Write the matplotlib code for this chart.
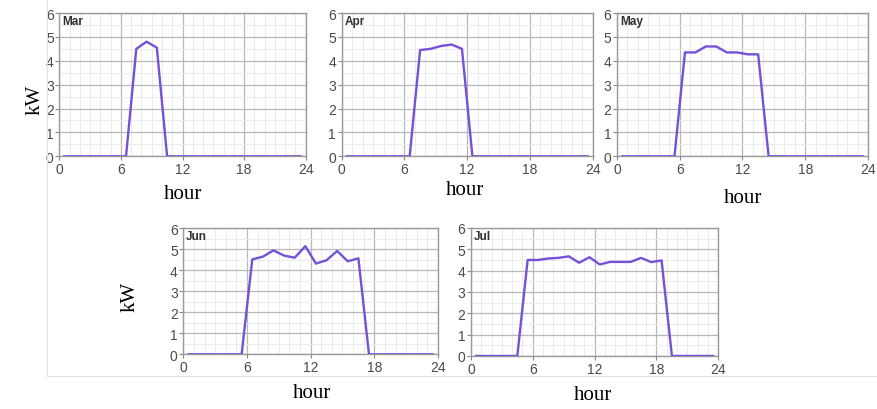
import matplotlib.pyplot as plt
from matplotlib.lines import Line2D
from matplotlib.ticker import MultipleLocator

# hourly mean PV output (kW), points at the middle of each hour
hours = [h + 0.5 for h in range(24)]

mar = [0, 0, 0, 0, 0, 0, 0, 4.5, 4.8, 4.55, 0, 0,
       0, 0, 0, 0, 0, 0, 0, 0, 0, 0, 0, 0]
apr = [0, 0, 0, 0, 0, 0, 0, 4.45, 4.5, 4.62, 4.68, 4.5,
       0, 0, 0, 0, 0, 0, 0, 0, 0, 0, 0, 0]
may = [0, 0, 0, 0, 0, 0, 4.35, 4.35, 4.6, 4.6, 4.35, 4.35,
       4.27, 4.27, 0, 0, 0, 0, 0, 0, 0, 0, 0, 0]
jun = [0, 0, 0, 0, 0, 0, 4.52, 4.65, 4.95, 4.7, 4.6, 5.15,
       4.32, 4.48, 4.92, 4.43, 4.57, 0, 0, 0, 0, 0, 0, 0]
jul = [0, 0, 0, 0, 0, 4.5, 4.5, 4.57, 4.6, 4.67, 4.37, 4.63,
       4.29, 4.41, 4.41, 4.41, 4.6, 4.4, 4.48, 0, 0, 0, 0, 0]

months = ["Mar", "Apr", "May", "Jun", "Jul"]
series = [mar, apr, may, jun, jul]

# axes boxes in figure fractions (left, bottom, width, height)
boxes = [
    [0.0676, 0.6163, 0.2810, 0.3495],
    [0.3896, 0.6163, 0.2862, 0.3495],
    [0.7035, 0.6163, 0.2862, 0.3495],
    [0.2090, 0.1334, 0.2904, 0.3073],
    [0.5370, 0.1293, 0.2820, 0.3122],
]

W, H = 877, 410
fig = plt.figure(figsize=(W / 100, H / 100), dpi=100)

serif = ["Liberation Serif", "DejaVu Serif"]
sans = ["Liberation Sans", "DejaVu Sans"]
line_col = "#7650d8"

for name, vals, box in zip(months, series, boxes):
    ax = fig.add_axes(box)
    ax.plot(hours, vals, color=line_col, lw=1.7, zorder=3)
    ax.set_xlim(0, 24)
    ax.set_ylim(0, 6)
    ax.xaxis.set_major_locator(MultipleLocator(6))
    ax.xaxis.set_minor_locator(MultipleLocator(1))
    ax.yaxis.set_major_locator(MultipleLocator(1))
    ax.yaxis.set_minor_locator(MultipleLocator(0.5))
    ax.grid(which="major", color="#b8b8b8", lw=0.9)
    ax.grid(which="minor", color="#ebebeb", lw=0.7)
    ax.set_axisbelow(True)
    for s in ax.spines.values():
        s.set_color("#9a9a9a")
        s.set_linewidth(1.0)
    ax.tick_params(which="major", length=3, color="#888888",
                   labelcolor="#4a4a4a", labelsize=10, pad=1)
    ax.tick_params(which="minor", length=0)
    for lab in ax.get_xticklabels() + ax.get_yticklabels():
        lab.set_family(sans)
    ax.text(0.012, 0.985, name, transform=ax.transAxes, ha="left", va="top",
            fontsize=8.5, fontweight="bold", color="#333333", family=sans)

def px(x, y):
    return x / W, 1 - y / H

# axis titles placed as in the scanned figure
for x, y in [(35, 100), (130, 297)]:
    fig.text(*px(x, y), "kW", rotation=90, ha="center", va="center",
             fontsize=15, family=serif)
for x, y in [(183, 195), (465, 191), (743, 199), (312, 394), (593, 396)]:
    fig.text(*px(x, y), "hour", ha="center", va="center",
             fontsize=15, family=serif)

# faint frame of the original image
fig.add_artist(Line2D([47 / W, 47 / W], [1, 1 - 377 / H],
                      color="#e2e2e2", lw=0.8))
fig.add_artist(Line2D([47 / W, 1], [1 - 377 / H, 1 - 377 / H],
                      color="#e2e2e2", lw=0.8))

fig.savefig("out.png", dpi=100)
